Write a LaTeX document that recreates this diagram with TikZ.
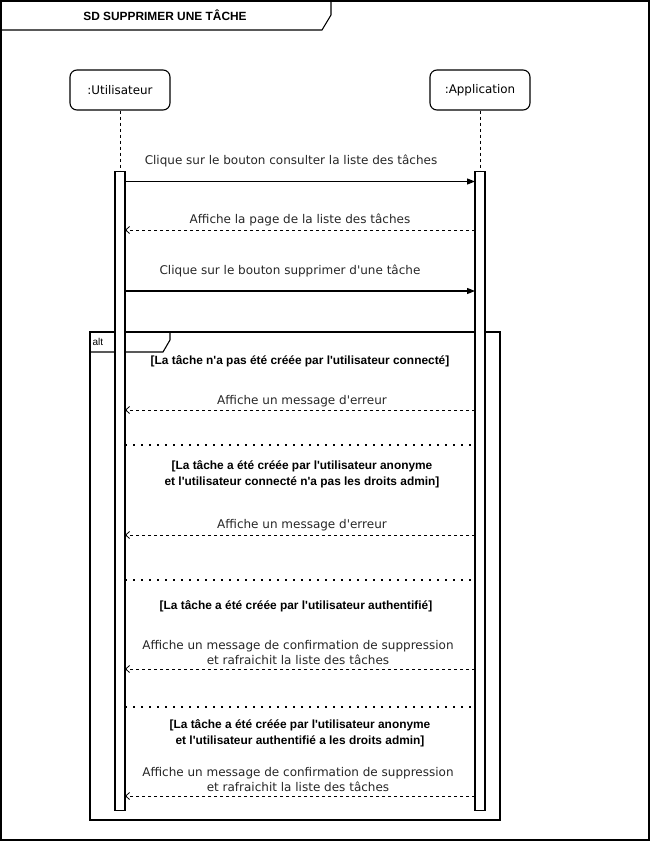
\documentclass[tikz,border=0pt]{standalone}
\usepackage{fontspec}
\setmainfont{Liberation Sans}[Ligatures=TeXOff]
\newfontfamily\msgfont{DejaVu Sans}[Ligatures=TeXOff]
\usetikzlibrary{arrows.meta}
\begin{document}
\begin{tikzpicture}[x=1pt,y=-1pt,line width=1.1pt,
  lifebox/.style={draw,line width=1.1pt,rounded corners=7pt,minimum width=100pt,minimum height=40pt,inner sep=0pt,font=\msgfont\fontsize{11.9}{13}\selectfont},
  actbar/.style={draw,line width=1.1pt,fill=white,minimum width=10pt,inner sep=0pt},
  msglabel/.style={font=\msgfont\fontsize{12}{15}\selectfont,text=black!85,align=center,inner sep=0pt},
  guardlabel/.style={font=\bfseries\fontsize{11.9}{15.5}\selectfont,align=center,inner sep=0pt},
  callmsg/.style={-{Triangle[length=8pt,width=6pt]},line width=1.1pt},
  retmsg/.style={-{Straight Barb[length=4pt,width=7pt]},dash pattern=on 3pt off 3pt,line width=0.8pt},
  sepline/.style={line width=1.7pt,dash pattern=on 1.7pt off 6.3pt,line cap=butt},
  lifeline/.style={dash pattern=on 3pt off 3pt,line width=0.8pt}]
\useasboundingbox (0,0) rectangle (651,841);
% outer frame
\draw (1,1) rectangle (649,840);
\draw (1,30) -- (322,30) -- (331,15) -- (331,1);
\node[font=\bfseries\fontsize{11.9}{12}\selectfont] (title) at (165,15.5) {SD SUPPRIMER UNE TÂCHE};
% lifelines
\node[lifebox] (user) at (120,90) {:Utilisateur};
\node[lifebox] (app) at (480,90) {:Application};
\coordinate (ubartop) at (120,171);
\coordinate (abartop) at (480,171);
\draw[lifeline] (user.south) -- (ubartop);
\draw[lifeline] (app.south) -- (abartop);
% alt frame
\draw (90,332) rectangle (500,820);
\draw (90,352) -- (163,352) -- (170,340) -- (170,332);
\node[anchor=west,font=\fontsize{10}{11}\selectfont,inner sep=0pt] (alt) at (92,341.5) {alt};
% activation bars
\node[actbar,minimum height=639pt,anchor=north] (ubar) at (120,171) {};
\node[actbar,minimum height=639pt,anchor=north] (abar) at (480,171) {};
% coordinates for messages
\foreach \n/\y in {m1/181.5,m2/230,m3/291,m4/410,m5/535,m6/669,m7/796,s1/445,s2/580,s3/707}{
  \coordinate (\n u) at (125,\y);
  \coordinate (\n a) at (475,\y);
}
\draw[callmsg] (m1u) -- (m1a);
\node[msglabel] (l1) at (291,161) {Clique sur le bouton consulter la liste des tâches};
\draw[retmsg] (m2a) -- (m2u);
\node[msglabel] (l2) at (300,220) {Affiche la page de la liste des tâches};
\draw[callmsg] (m3u) -- (m3a);
\node[msglabel] (l3) at (290,271) {Clique sur le bouton supprimer d'une tâche};
% alt operands
\node[guardlabel] (g1) at (300,361) {[La tâche n'a pas été créée par l'utilisateur connecté]};
\draw[retmsg] (m4a) -- (m4u);
\node[msglabel] (l4) at (302,401.5) {Affiche un message d'erreur};
\draw[sepline] (s1u) -- (s1a);
\node[guardlabel] (g2) at (302,474.5) {[La tâche a été créée par l'utilisateur anonyme\\et l'utilisateur connecté n'a pas les droits admin]};
\draw[retmsg] (m5a) -- (m5u);
\node[msglabel] (l5) at (302,525.5) {Affiche un message d'erreur};
\draw[sepline] (s2u) -- (s2a);
\node[guardlabel] (g3) at (296,606) {[La tâche a été créée par l'utilisateur authentifié]};
\draw[retmsg] (m6a) -- (m6u);
\node[msglabel] (l6) at (298,652.5) {Affiche un message de confirmation de suppression\\et rafraichit la liste des tâches};
\draw[sepline] (s3u) -- (s3a);
\node[guardlabel] (g4) at (300,733.5) {[La tâche a été créée par l'utilisateur anonyme\\et l'utilisateur authentifié a les droits admin]};
\draw[retmsg] (m7a) -- (m7u);
\node[msglabel] (l7) at (298,780) {Affiche un message de confirmation de suppression\\et rafraichit la liste des tâches};
\end{tikzpicture}
\end{document}
